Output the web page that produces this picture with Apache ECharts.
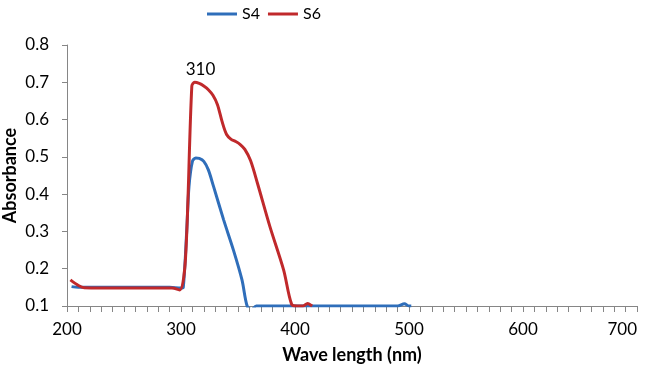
<!DOCTYPE html>
<html>
<head>
<meta charset="utf-8">
<script src="https://cdn.jsdelivr.net/npm/echarts@6/dist/echarts.min.js"></script>
<style>
  html, body { margin: 0; padding: 0; background: #fff; }
  #main { width: 646px; height: 369px; }
</style>
</head>
<body>
<div id="main"></div>
<script>
// wavelength (nm) / absorbance
var s4X = [204, 210, 250, 290, 300, 302, 305, 307, 310, 313, 316, 320, 324, 328.6, 337.4, 346, 353.5, 358, 362, 366, 400, 450, 490, 496, 500, 502];
var s4Y = [0.152, 0.15, 0.15, 0.15, 0.148, 0.15, 0.3, 0.42, 0.488, 0.497, 0.496, 0.488, 0.465, 0.42, 0.331, 0.25, 0.17, 0.1, 0.09, 0.1, 0.1, 0.1, 0.1, 0.106, 0.1, 0.1];

var s6X = [203, 210, 215, 250, 292, 299, 304, 309.5, 312, 316, 320, 324, 328, 332, 336, 340, 344, 348, 352, 356, 361, 367, 378, 390, 397, 402, 407, 411, 415];
var s6Y = [0.17, 0.155, 0.149, 0.148, 0.148, 0.143, 0.23, 0.69, 0.70, 0.697, 0.69, 0.68, 0.665, 0.64, 0.595, 0.56, 0.547, 0.541, 0.533, 0.52, 0.49, 0.43, 0.313, 0.197, 0.105, 0.1, 0.1, 0.107, 0.1];

var peakX = 311;
var peakY = 0.70;
var peakLabel = "310";

function pairs(xs, ys) {
  return xs.map(function (x, i) { return [x, ys[i]]; });
}

var chart = echarts.init(document.getElementById("main"));
var axisColor = "#868686";
chart.setOption({
  animation: false,
  textStyle: { fontFamily: "Lato" },
  legend: {
    left: 202,
    top: 1,
    icon: "rect",
    itemWidth: 30,
    itemHeight: 3,
    itemGap: 8,
    textStyle: { fontSize: 16, color: "#000", fontFamily: "Lato" },
    data: ["S4", "S6"]
  },
  grid: { left: 67, right: 9, top: 45, bottom: 63, outerBoundsMode: "none" },
  xAxis: {
    type: "value",
    min: 200,
    max: 700,
    interval: 100,
    name: "Wave length (nm)",
    nameLocation: "middle",
    nameGap: 40,
    nameTextStyle: { fontSize: 18, fontWeight: "bold", color: "#000", fontFamily: "Lato" },
    axisLine: { lineStyle: { color: axisColor, width: 1 } },
    axisTick: { show: true, inside: false, length: 6, lineStyle: { color: axisColor } },
    minorTick: { show: true, splitNumber: 10, length: 6, lineStyle: { color: axisColor } },
    splitLine: { show: false },
    axisLabel: { fontSize: 17, color: "#000", margin: 15, alignMaxLabel: "right" }
  },
  yAxis: {
    type: "value",
    min: 0.1,
    max: 0.8,
    interval: 0.1,
    name: "Absorbance",
    nameLocation: "middle",
    nameGap: 48,
    nameMoveOverlap: false,
    nameTextStyle: { fontSize: 18, fontWeight: "bold", color: "#000", fontFamily: "Lato" },
    axisLine: { show: true, lineStyle: { color: axisColor, width: 1 } },
    axisTick: { show: true, inside: false, length: 5, lineStyle: { color: axisColor } },
    splitLine: { show: false },
    axisLabel: {
      fontSize: 17,
      color: "#000",
      margin: 18,
      formatter: function (v) { return v.toFixed(1); }
    }
  },
  series: [
    {
      name: "S4",
      type: "line",
      data: pairs(s4X, s4Y),
      smooth: 0.3,
      showSymbol: false,
      clip: true,
      lineStyle: { width: 3, color: "#2F6EBA" },
      itemStyle: { color: "#2F6EBA" }
    },
    {
      name: "S6",
      type: "line",
      data: pairs(s6X, s6Y),
      smooth: 0.3,
      showSymbol: false,
      clip: true,
      lineStyle: { width: 3, color: "#C0292B" },
      itemStyle: { color: "#C0292B" },
      markPoint: {
        symbol: "circle",
        symbolSize: 0,
        data: [{
          coord: [peakX, peakY],
          label: {
            show: true,
            position: "top",
            offset: [7, 1],
            formatter: peakLabel,
            fontFamily: "Lato",
            fontSize: 17,
            color: "#000"
          }
        }]
      }
    }
  ]
});
</script>
</body>
</html>
